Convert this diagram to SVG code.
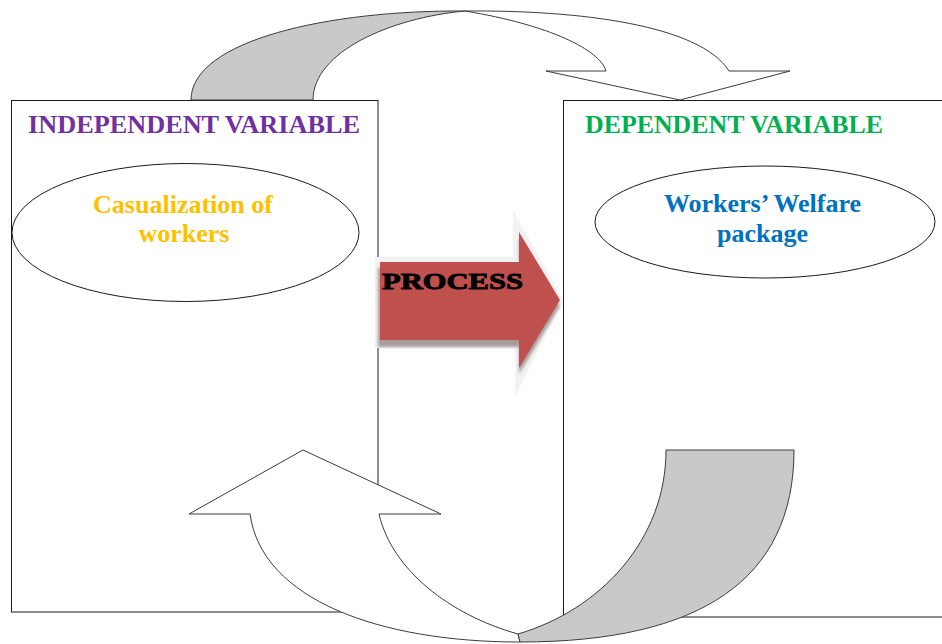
<svg xmlns="http://www.w3.org/2000/svg" width="942" height="644" viewBox="0 0 942 644">
  <defs>
    <style>
      .box { fill: #ffffff; stroke: #1a1a1a; stroke-width: 1; }
      .ell { fill: #ffffff; stroke: #1a1a1a; stroke-width: 1; }
      .title { font-family: "Liberation Serif", "Times New Roman", serif; font-weight: bold; font-size: 26px; }
      .label { font-family: "Liberation Serif", "Times New Roman", serif; font-weight: bold; font-size: 26px; text-anchor: middle; }
      .band { stroke: #3c3c3c; stroke-width: 1; stroke-linejoin: miter; }
      .front { fill: #ffffff; }
      .back { fill: #c9c9c9; }
      .proc { font-family: "Liberation Serif", "Times New Roman", serif; font-weight: 900; font-size: 23px; fill: #000000; stroke: #000000; stroke-width: 0.9; }
    </style>
    <filter id="soft" x="-10%" y="-10%" width="120%" height="120%">
      <feGaussianBlur stdDeviation="1.5"/>
    </filter>
  </defs>

  <rect width="942" height="644" fill="#ffffff"/>

  <g id="independent">
    <rect class="box" x="11.5" y="100.5" width="366.5" height="511.5"/>
    <text class="title" x="28" y="133" fill="#7030a0" textLength="332" lengthAdjust="spacingAndGlyphs">INDEPENDENT VARIABLE</text>
    <ellipse class="ell" cx="185.5" cy="232.5" rx="173.5" ry="69"/>
    <text class="label" x="183" y="213" fill="#ffc000">Casualization of</text>
    <text class="label" x="184" y="242" fill="#ffc000">workers</text>
  </g>

  <g id="dependent">
    <rect class="box" x="563.5" y="100.5" width="390" height="516.5"/>
    <text class="title" x="585" y="133" fill="#00b050" textLength="298" lengthAdjust="spacingAndGlyphs">DEPENDENT VARIABLE</text>
    <ellipse class="ell" cx="765" cy="222" rx="170" ry="56"/>
    <text class="label" x="762.5" y="212" fill="#0070c0">Workers’ Welfare</text>
    <text class="label" x="762.5" y="242" fill="#0070c0">package</text>
  </g>

  <g id="connectors">
    <!-- top curved arrow: independent to dependent -->
    <g id="arrow-top">
      <path class="band back" d="M191,100 C191,40 330,10 465,11 C390,18 313,52 313,100 Z"/>
      <path class="band front" d="M465,11 C550,25 600,50 606,71 L546,71 L680,100 L790,71 L729,71 C700,25 580,10 465,11 Z"/>
    </g>

    <!-- bottom curved arrow: dependent back to independent -->
    <g id="arrow-bottom">
      <path class="band front" d="M250,514 L189,514 L303,450 L441,514 L379,514 C392,570 450,615 518,634 L520,642 C380,642 262,600 250,514 Z"/>
      <path class="band back" d="M518,634 C600,610 666,540 666,450 L794,450 C794,580 700,642 520,642 Z"/>
    </g>

    <!-- process arrow -->
    <g id="arrow-process">
      <path d="M375,257 L513,257 L513,210 L563,300 L515,397 L515,348 L375,348 Z" fill="#f3f1f1"/>
      <path d="M378,268 L519,268 L519,238 L560,306 L519,374 L519,347 L378,347 Z" fill="#a89d9d" filter="url(#soft)"/>
      <path d="M380,262 L519,262 L519,232 L560,300 L519,368 L519,340 L380,340 Z" fill="#c0504d"/>
      <text class="proc" x="382" y="289" textLength="141" lengthAdjust="spacingAndGlyphs">PROCESS</text>
    </g>
  </g>
</svg>
